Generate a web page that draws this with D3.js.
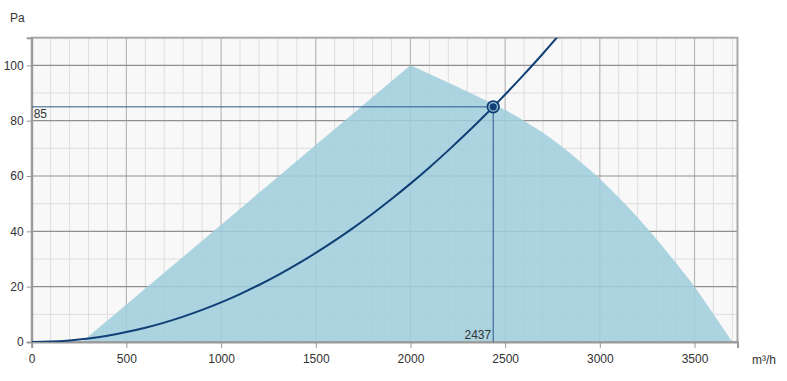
<!DOCTYPE html>
<html>
<head>
<meta charset="utf-8">
<script src="https://cdn.jsdelivr.net/npm/d3@7"></script>
<style>
  html, body { margin: 0; padding: 0; background: #ffffff; }
  svg text { font-family: "Liberation Sans", Arial, sans-serif; font-size: 12px; fill: #333; }
</style>
</head>
<body>
<svg id="chart" width="787" height="381"></svg>
<script>
// ---- data ----
const xTicks = [0, 500, 1000, 1500, 2000, 2500, 3000, 3500];
const yTicks = [0, 20, 40, 60, 80, 100];
const xDomain = [0, 3727];
const yDomain = [0, 110];
const xUnit = "m³/h";
const yUnit = "Pa";

// fan working range (upper boundary)
const fanRise = [[265, 0], [2000, 100]];
const fanFall = [[2000, 100], [2437, 86], [2500, 83.9], [2600, 80], [2700, 75.6], [2800, 70.6], [2900, 65],
                 [3000, 59], [3100, 52.2], [3200, 45], [3300, 37.1], [3400, 28.7], [3500, 20], [3600, 10.1], [3700, 0]];

// system curve
const sysFlow = [0, 100, 200, 300, 400, 500, 600, 700, 800, 900, 1000, 1100, 1200, 1300, 1400,
                 1500, 1600, 1700, 1800, 1900, 2000, 2100, 2200, 2300, 2400, 2437, 2500, 2600, 2700, 2800];
const sysPress = [0, 0.14, 0.57, 1.29, 2.29, 3.58, 5.15, 7.01, 9.16, 11.59, 14.31, 17.32, 20.61, 24.19, 28.05,
                  32.2, 36.64, 41.36, 46.37, 51.67, 57.25, 63.11, 69.27, 75.71, 82.44, 85, 89.45, 96.75, 104.3, 112.2];

// operating point
const opFlow = 2437;
const opPress = 85;

// ---- drawing ----
const svg = d3.select("#chart");
const L = 31.7, R = 737.5, T = 37.7, B = 342;
const x = d3.scaleLinear().domain(xDomain).range([L, R]);
const y = d3.scaleLinear().domain(yDomain).range([B, T]);

svg.append("defs").append("clipPath").attr("id", "clip")
  .append("rect").attr("x", L).attr("y", T).attr("width", R - L).attr("height", B - T);

svg.append("rect").attr("x", L).attr("y", T).attr("width", R - L).attr("height", B - T)
  .attr("fill", "#f8f8f8");

const grid = svg.append("g");
// minor vertical
d3.range(100, 3727, 100).filter(v => v % 500 !== 0).forEach(v => {
  grid.append("line").attr("x1", x(v)).attr("x2", x(v)).attr("y1", T).attr("y2", B)
    .attr("stroke", "#dedede").attr("stroke-width", 1);
});
// minor horizontal
d3.range(10, 110, 20).forEach(v => {
  grid.append("line").attr("x1", L).attr("x2", R).attr("y1", y(v)).attr("y2", y(v))
    .attr("stroke", "#dedede").attr("stroke-width", 1);
});
// major vertical
xTicks.filter(v => v > 0).forEach(v => {
  grid.append("line").attr("x1", x(v)).attr("x2", x(v)).attr("y1", T).attr("y2", B)
    .attr("stroke", "#b8b8b8").attr("stroke-width", 1.2);
});
// major horizontal
yTicks.filter(v => v > 0).forEach(v => {
  grid.append("line").attr("x1", L).attr("x2", R).attr("y1", y(v)).attr("y2", y(v))
    .attr("stroke", "#8f8f8f").attr("stroke-width", 1.2);
});

// fan area
const fallLine = d3.line().x(d => x(d[0])).y(d => y(d[1])).curve(d3.curveMonotoneX);
const areaPath = "M" + x(fanRise[0][0]) + "," + y(fanRise[0][1]) + "L" + fallLine(fanFall).slice(1) + "Z";
svg.append("path").attr("d", areaPath).attr("fill", "#9fcddc").attr("fill-opacity", 0.86)
  .attr("clip-path", "url(#clip)");

// border
svg.append("rect").attr("x", L).attr("y", T).attr("width", R - L).attr("height", B - T)
  .attr("fill", "none").attr("stroke", "#a8a8a8").attr("stroke-width", 2);

// axes
const xAxis = d3.axisBottom(x).tickValues(xTicks).tickFormat(d3.format("d")).tickSize(6).tickPadding(4);
const gx = svg.append("g").attr("transform", `translate(0,${B})`).call(xAxis);
gx.select(".domain").attr("stroke", "#999").attr("stroke-width", 2);
gx.selectAll(".tick line").attr("stroke", "#999");
gx.selectAll(".tick text").attr("dy", "0.9em").style("font-size", "12px").style("fill", "#333")
  .style("font-family", "'Liberation Sans', Arial, sans-serif");

const yAxis = d3.axisLeft(y).tickValues(yTicks).tickFormat(d3.format("d")).tickSize(5).tickPadding(3);
const gy = svg.append("g").attr("transform", `translate(${L},0)`).call(yAxis);
gy.select(".domain").attr("stroke", "#999").attr("stroke-width", 2);
gy.selectAll(".tick line").attr("stroke", "#999");
gy.selectAll(".tick text").style("font-size", "12px").style("fill", "#333")
  .style("font-family", "'Liberation Sans', Arial, sans-serif");

// unit labels
svg.append("text").attr("x", 10).attr("y", 22).text(yUnit);
svg.append("text").attr("x", 752).attr("y", 364).text(xUnit);

// operating crosshair
const dark = "#0f3f75";
svg.append("line").attr("x1", L).attr("x2", x(opFlow)).attr("y1", y(opPress)).attr("y2", y(opPress))
  .attr("stroke", "#2b5a8c").attr("stroke-width", 1);
svg.append("line").attr("x1", x(opFlow)).attr("x2", x(opFlow)).attr("y1", y(opPress)).attr("y2", B)
  .attr("stroke", "#2b5a8c").attr("stroke-width", 1);
svg.append("text").attr("x", L + 2).attr("y", y(opPress) + 11).text(opPress);
svg.append("text").attr("x", x(opFlow) - 2).attr("y", B - 3).attr("text-anchor", "end").text(opFlow);

// system curve
const sysLine = d3.line().x(d => x(d[0])).y(d => y(d[1])).curve(d3.curveMonotoneX);
svg.append("path").attr("d", sysLine(sysFlow.map((f, i) => [f, sysPress[i]])))
  .attr("fill", "none").attr("stroke", dark).attr("stroke-width", 2).attr("clip-path", "url(#clip)");

// operating point marker
svg.append("circle").attr("cx", x(opFlow)).attr("cy", y(opPress)).attr("r", 5.8)
  .attr("fill", "#9fc3d8").attr("stroke", dark).attr("stroke-width", 1.8);
svg.append("circle").attr("cx", x(opFlow)).attr("cy", y(opPress)).attr("r", 3.6)
  .attr("fill", dark);
</script>
</body>
</html>
